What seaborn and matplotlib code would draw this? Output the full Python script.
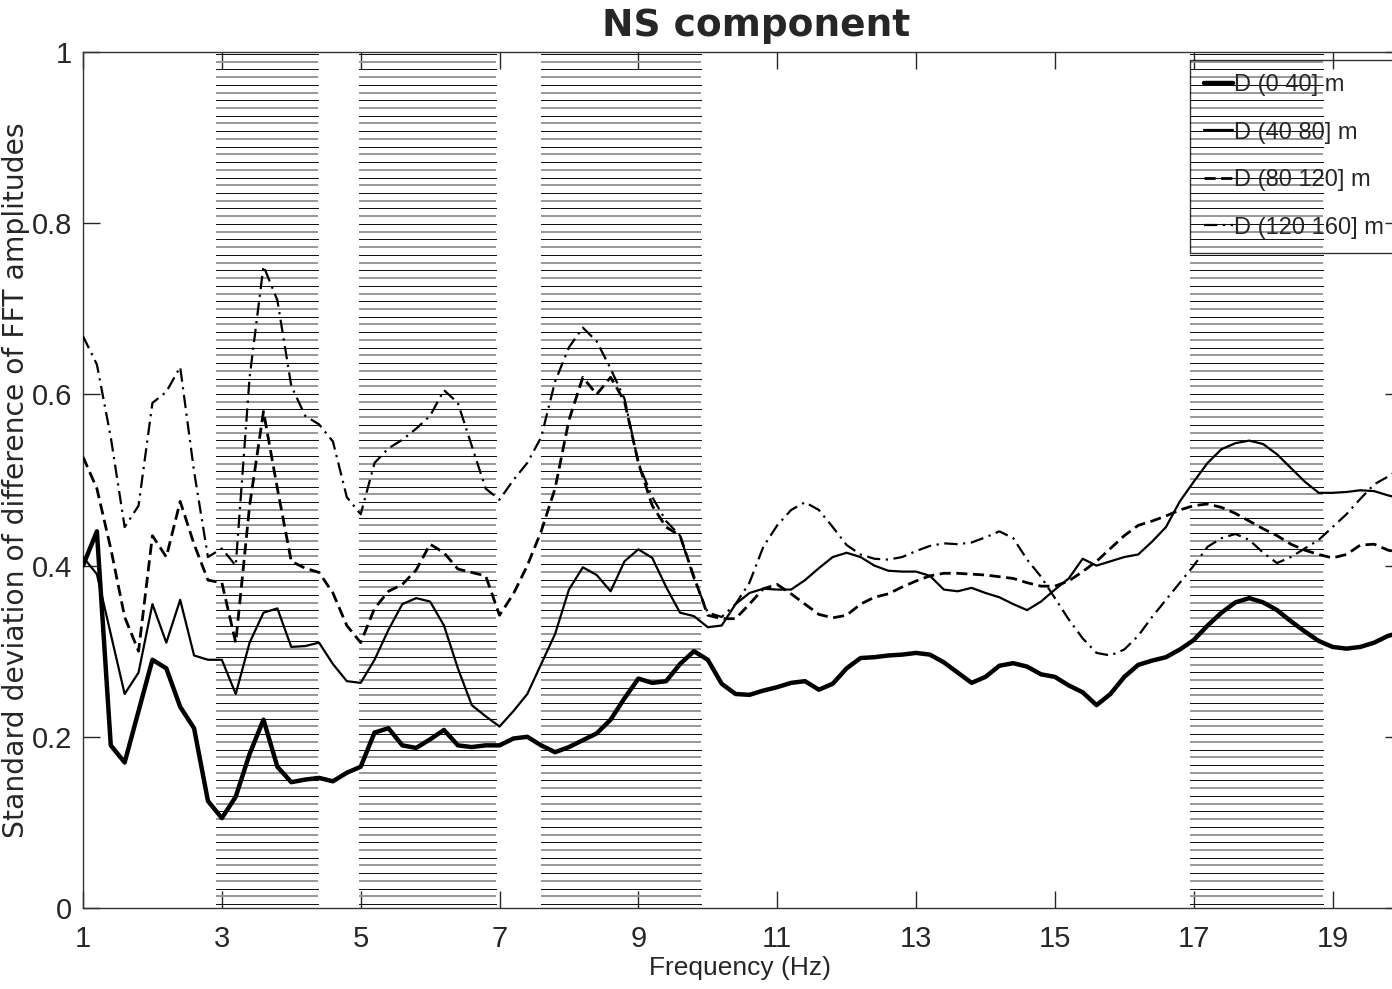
import numpy as np
import pandas as pd
import matplotlib
matplotlib.use("Agg")
import matplotlib.pyplot as plt
import seaborn as sns
from matplotlib.lines import Line2D

# ---------------- data ----------------
freq = np.round(np.arange(1.0, 20.01, 0.2), 1)

d_0_40 = [0.40, 0.44, 0.19, 0.17, 0.23, 0.29, 0.28, 0.235, 0.21, 0.125,
          0.105, 0.13, 0.18, 0.22, 0.165, 0.147, 0.15, 0.152, 0.148, 0.158,
          0.165, 0.205, 0.21, 0.19, 0.187, 0.197, 0.208, 0.19, 0.188, 0.19,
          0.19, 0.198, 0.20, 0.19, 0.182, 0.188, 0.196, 0.204, 0.22, 0.245,
          0.268, 0.263, 0.265, 0.285, 0.30, 0.29, 0.262, 0.25, 0.249, 0.254,
          0.258, 0.263, 0.265, 0.255, 0.262, 0.28, 0.292, 0.293, 0.295, 0.296,
          0.298, 0.296, 0.287, 0.275, 0.263, 0.27, 0.283, 0.286, 0.282, 0.273,
          0.27, 0.26, 0.252, 0.237, 0.25, 0.27, 0.284, 0.289, 0.293, 0.302,
          0.313, 0.33, 0.345, 0.357, 0.362, 0.357, 0.348, 0.335, 0.323, 0.312,
          0.305, 0.303, 0.305, 0.31, 0.318, 0.322]

d_40_80 = [0.41, 0.39, 0.32, 0.25, 0.275, 0.355, 0.31, 0.36, 0.295, 0.29,
           0.29, 0.25, 0.31, 0.345, 0.35, 0.305, 0.306, 0.31, 0.285, 0.265,
           0.263, 0.29, 0.325, 0.355, 0.362, 0.358, 0.33, 0.28, 0.237, 0.224,
           0.212, 0.23, 0.25, 0.285, 0.32, 0.372, 0.398, 0.389, 0.37, 0.405,
           0.419, 0.409, 0.375, 0.345, 0.341, 0.328, 0.33, 0.355, 0.368, 0.373,
           0.372, 0.372, 0.383, 0.397, 0.41, 0.415, 0.41, 0.40, 0.394, 0.393,
           0.393, 0.388, 0.372, 0.37, 0.374, 0.368, 0.363, 0.355, 0.348, 0.358,
           0.372, 0.385, 0.408, 0.40, 0.405, 0.41, 0.413, 0.428, 0.445, 0.475,
           0.498, 0.52, 0.536, 0.543, 0.546, 0.542, 0.53, 0.514, 0.498, 0.485,
           0.485, 0.486, 0.488, 0.487, 0.482, 0.478]

d_80_120 = [0.527, 0.49, 0.42, 0.34, 0.30, 0.435, 0.41, 0.475, 0.425, 0.383,
            0.38, 0.31, 0.47, 0.58, 0.49, 0.405, 0.397, 0.392, 0.368, 0.33,
            0.31, 0.35, 0.37, 0.378, 0.395, 0.425, 0.415, 0.396, 0.392, 0.388,
            0.342, 0.367, 0.40, 0.44, 0.49, 0.57, 0.62, 0.60, 0.62, 0.592,
            0.52, 0.47, 0.445, 0.435, 0.387, 0.342, 0.338, 0.338, 0.355, 0.373,
            0.378, 0.367, 0.355, 0.343, 0.339, 0.342, 0.355, 0.363, 0.367, 0.375,
            0.382, 0.388, 0.391, 0.391, 0.39, 0.389, 0.387, 0.385, 0.38, 0.376,
            0.376, 0.382, 0.393, 0.405, 0.42, 0.435, 0.447, 0.452, 0.458, 0.465,
            0.47, 0.472, 0.468, 0.461, 0.452, 0.443, 0.435, 0.425, 0.418, 0.413,
            0.409, 0.413, 0.424, 0.425, 0.418, 0.415]

d_120_160 = [0.668, 0.635, 0.55, 0.445, 0.47, 0.59, 0.603, 0.632, 0.51, 0.41,
             0.42, 0.40, 0.62, 0.75, 0.71, 0.61, 0.575, 0.565, 0.545, 0.48,
             0.46, 0.52, 0.537, 0.547, 0.56, 0.575, 0.605, 0.59, 0.54, 0.49,
             0.477, 0.50, 0.52, 0.55, 0.615, 0.655, 0.678, 0.662, 0.63, 0.595,
             0.52, 0.48, 0.452, 0.435, 0.385, 0.345, 0.34, 0.355, 0.38, 0.422,
             0.447, 0.465, 0.474, 0.465, 0.445, 0.424, 0.413, 0.408, 0.407, 0.41,
             0.417, 0.423, 0.426, 0.425, 0.427, 0.433, 0.44, 0.432, 0.407, 0.387,
             0.362, 0.337, 0.315, 0.298, 0.295, 0.302, 0.318, 0.34, 0.36, 0.38,
             0.40, 0.422, 0.432, 0.437, 0.43, 0.415, 0.403, 0.41, 0.42, 0.43,
             0.445, 0.46, 0.478, 0.495, 0.504, 0.515]

series_labels = ["D (0 40] m", "D (40 80] m", "D (80 120] m", "D (120 160] m"]
bands = [(2.92, 4.38), (4.98, 6.95), (7.6, 9.9), (16.94, 18.86)]
x_ticks = [1, 3, 5, 7, 9, 11, 13, 15, 17, 19]
y_ticks = [0, 0.2, 0.4, 0.6, 0.8, 1.0]
y_ticklabels = ["0", "0.2", "0.4", "0.6", "0.8", "1"]

# ---------------- style ----------------
sns.set_style("ticks")
narrow = ["Liberation Sans", "DejaVu Sans"]
plt.rcParams["font.family"] = ["DejaVu Sans"]
plt.rcParams["xtick.direction"] = "in"
plt.rcParams["ytick.direction"] = "in"

fig = plt.figure(figsize=(13.92, 9.89), dpi=100)
ax = fig.add_axes([83 / 1392, 81 / 989, (1402 - 83) / 1392, (908 - 52) / 989])

# hatched frequency bands (thin horizontal rules, alternately dark and grey)
hatch_y = np.arange(0.0045, 1.0, 0.00903)
for (b0, b1) in bands:
    ax.hlines(hatch_y[0::2], b0, b1, colors="#111111", linewidth=0.7, zorder=1,
              antialiased=False)
    ax.hlines(hatch_y[1::2], b0, b1, colors="#9a9a9a", linewidth=1.4, zorder=1,
              antialiased=False)

styles = [
    dict(linewidth=3.2, linestyle="-"),
    dict(linewidth=1.6, linestyle="-"),
    dict(linewidth=2.0, linestyle=(0, (4, 2))),
    dict(linewidth=1.6, linestyle=(0, (6, 2.5, 1, 2.5))),
]
df = pd.DataFrame({"freq": freq, series_labels[0]: d_0_40, series_labels[1]: d_40_80,
                   series_labels[2]: d_80_120, series_labels[3]: d_120_160})
for lab, st in zip(series_labels, styles):
    sns.lineplot(data=df, x="freq", y=lab, ax=ax, color="black", zorder=3, **st)

ax.set_xlim(1, 20)
ax.set_ylim(0, 1)
ax.set_xticks(x_ticks)
ax.set_xticklabels([str(t) for t in x_ticks])
ax.set_yticks(y_ticks)
ax.set_yticklabels(y_ticklabels)
ax.tick_params(axis="both", which="both", direction="in", length=12, width=1,
               top=True, right=True, labelsize=21)
ax.tick_params(axis="x", pad=12)
ax.tick_params(axis="y", pad=8)
for lab in ax.get_xticklabels() + ax.get_yticklabels():
    lab.set_family(narrow)
for sp in ax.spines.values():
    sp.set_visible(True)
    sp.set_linewidth(1.0)
    sp.set_color("#333333")

ax.set_xlabel("Frequency (Hz)", fontsize=19, family=narrow)
ax.xaxis.set_label_coords((740 - 83) / (1402 - 83), -(956 - 908) / 856)
ax.set_ylabel("Standard deviation of difference of FFT amplitudes", fontsize=20.3)
ax.yaxis.set_label_coords(-(83 - 30) / (1402 - 83), 0.5)

fig.text(756 / 1392, 1 - 26 / 989, "NS component", ha="center", va="center",
         fontsize=27, fontweight="bold")

handles = [Line2D([0], [0], color="black", **st) for st in styles]
leg = ax.legend(handles, series_labels, loc="upper left",
                bbox_to_anchor=((1190 - 83) / (1402 - 83), (908 - 60) / 856),
                frameon=True, fancybox=False, edgecolor="black",
                prop={"family": narrow, "size": 17}, handlelength=1.2,
                handletextpad=0.06, labelspacing=1.08, borderpad=0.6,
                borderaxespad=0)
frame = leg.get_frame()
frame.set_facecolor("none")
frame.set_edgecolor("black")
frame.set_linewidth(1.0)

fig.savefig("out.png", dpi=100)
